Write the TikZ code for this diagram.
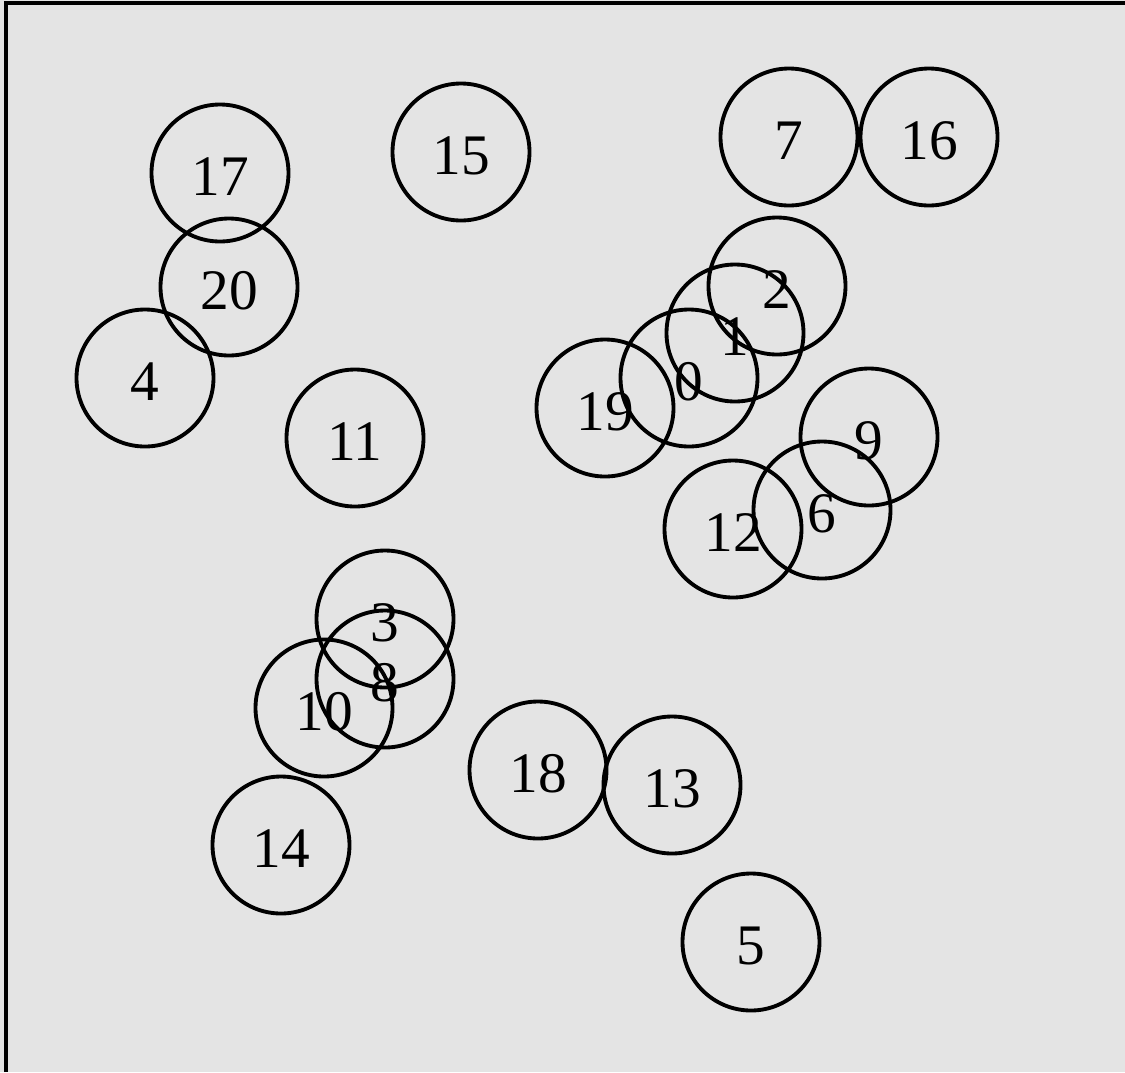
\documentclass[tikz,border=0pt]{standalone}
\usepackage{fontspec}
\setmainfont{Liberation Serif}
\definecolor{panelgray}{RGB}{228,228,228}
\begin{document}
\begin{tikzpicture}[x=0.75pt,y=-0.75pt,
  disk/.style={circle,draw=black,line width=2.9pt,minimum size=102.75pt,inner sep=0pt,
    text height=33pt,text depth=0pt,
    font=\fontsize{43}{50}\selectfont,text=black}]
  % panel
  \fill[panelgray] (0,0) rectangle (1125,1072);
  \useasboundingbox (0,0) rectangle (1125,1072);
  \draw[line width=2.4pt] (6,1072) -- (6,3) -- (1125,3);
  % circles
  \node[disk] (n7)  at (789,137) {7};
  \node[disk] (n16) at (929,137) {16};
  \node[disk] (n15) at (461,152) {15};
  \node[disk] (n17) at (220,173) {17};
  \node[disk] (n20) at (229,287) {20};
  \node[disk] (n4)  at (145,378) {4};
  \node[disk] (n11) at (355,438) {11};
  \node[disk] (n2)  at (777,286) {2};
  \node[disk] (n1)  at (735,333) {1};
  \node[disk] (n0)  at (689,378) {0};
  \node[disk] (n19) at (605,408) {19};
  \node[disk] (n9)  at (869,437) {9};
  \node[disk] (n6)  at (822,510) {6};
  \node[disk] (n12) at (733,529) {12};
  \node[disk] (n3)  at (385,619) {3};
  \node[disk] (n8)  at (385,679) {8};
  \node[disk] (n10) at (324,708) {10};
  \node[disk] (n18) at (538,770) {18};
  \node[disk] (n13) at (672,785) {13};
  \node[disk] (n14) at (281,845) {14};
  \node[disk] (n5)  at (751,942) {5};
\end{tikzpicture}
\end{document}
